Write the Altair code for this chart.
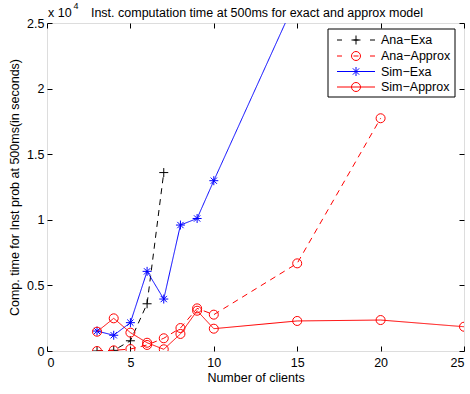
import altair as alt
import pandas as pd

# Number of clients and computation time (x 10^4 seconds) for each model
clients_ana_exa = [3, 4, 5, 6, 7]
time_ana_exa = [0.0, 0.005, 0.078, 0.36, 1.36]

clients_ana_approx = [3, 4, 5, 6, 7, 8, 9, 10, 15, 20]
time_ana_approx = [0.0, 0.005, 0.015, 0.046, 0.097, 0.175, 0.325, 0.277, 0.668, 1.774]

clients_sim_exa = [3, 4, 5, 6, 7, 8, 9, 10, 15]
time_sim_exa = [0.152, 0.12, 0.216, 0.607, 0.396, 0.96, 1.01, 1.298, 2.70]

clients_sim_approx = [3, 4, 5, 6, 7, 8, 9, 10, 15, 20, 25]
time_sim_approx = [0.147, 0.249, 0.14, 0.063, 0.013, 0.13, 0.307, 0.17, 0.229, 0.236, 0.185]

x_ticks = [0, 5, 10, 15, 20, 25]
y_ticks = [0, 0.5, 1, 1.5, 2, 2.5]

series_names = ["Ana\u2212Exa", "Ana\u2212Approx", "Sim\u2212Exa", "Sim\u2212Approx"]
title_text = "Inst. computation  time at 500ms for exact and approx model"

W, H = 417, 328
FONT = "Liberation Sans"
FS = 12.5

PLUS = "M-1,0L1,0M0,-1L0,1"
STAR = "M-1,0L1,0M0,-1L0,1M-0.7,-0.7L0.7,0.7M-0.7,0.7L0.7,-0.7"

styles = [
    dict(color="#000000", dash=[6, 5], ldash=[5, 11.5], shape=PLUS),
    dict(color="#ff0000", dash=[6, 5], ldash=[5, 11.5], shape="circle"),
    dict(color="#0000ff", dash=[1, 0], ldash=[1, 0], shape=STAR),
    dict(color="#ff0000", dash=[1, 0], ldash=[1, 0], shape="circle"),
]

series_data = [
    (clients_ana_exa, time_ana_exa),
    (clients_ana_approx, time_ana_approx),
    (clients_sim_exa, time_sim_exa),
    (clients_sim_approx, time_sim_approx),
]

x_scale = alt.Scale(domain=[0, 25], nice=False, zero=False)
y_scale = alt.Scale(domain=[0, 2.5], nice=False)

axis_common = dict(
    domain=False, grid=False, ticks=True, tickSize=5, tickColor="black",
    tickWidth=1, offset=-5, labelFont=FONT, labelFontSize=FS,
    labelColor="black", titleFont=FONT, titleFontSize=FS,
    titleFontWeight="normal", titleColor="black",
)

x_bottom = alt.Axis(orient="bottom", values=x_ticks, labelPadding=5,
                    title="Number of clients", titlePadding=3, **axis_common)
y_left = alt.Axis(orient="left", values=y_ticks, labelPadding=3, format=".1~f",
                  title="Comp. time for Inst prob at 500ms(in seconds)",
                  titlePadding=5, **axis_common)
x_top = alt.Axis(orient="top", values=x_ticks, labels=False, title=None, **axis_common)
y_right = alt.Axis(orient="right", values=y_ticks, labels=False, title=None, **axis_common)

layers = []

# Frame axes: bottom/left with labels, top/right ticks only
axis_df = pd.DataFrame({"clients": [0, 25], "time": [0, 2.5]})
layers.append(
    alt.Chart(axis_df).mark_point(opacity=0).encode(
        x=alt.X("clients:Q", scale=x_scale, axis=x_bottom),
        y=alt.Y("time:Q", scale=y_scale, axis=y_left),
    )
)
layers.append(
    alt.Chart(axis_df).mark_point(opacity=0).encode(
        x=alt.X("clients:Q", scale=x_scale, axis=x_top),
        y=alt.Y("time:Q", scale=y_scale, axis=y_right),
    )
)

# Series lines and markers
for (xs, ys), st in zip(series_data, styles):
    df = pd.DataFrame({"clients": xs, "time": ys})
    base = alt.Chart(df).encode(
        x=alt.X("clients:Q", scale=x_scale, axis=None),
        y=alt.Y("time:Q", scale=y_scale, axis=None),
    )
    layers.append(base.mark_line(color=st["color"], strokeDash=st["dash"],
                                 strokeWidth=1, clip=True))
    layers.append(base.mark_point(shape=st["shape"], filled=False, size=81,
                                  color=st["color"], strokeWidth=1, opacity=1,
                                  clip=True))

# Legend box
one = pd.DataFrame({"k": [0]})
layers.append(
    alt.Chart(one).mark_rect(fill="white", stroke="black", strokeWidth=1).encode(
        x=alt.value(281), x2=alt.value(408), y=alt.value(6), y2=alt.value(74)
    )
)
legend_y = [17, 33, 48.5, 64]
for name, st, ly in zip(series_names, styles, legend_y):
    ldf = pd.DataFrame({"label": [name]})
    lb = alt.Chart(ldf)
    layers.append(lb.mark_rule(color=st["color"], strokeDash=st["ldash"], strokeWidth=1).encode(
        x=alt.value(290), x2=alt.value(328), y=alt.value(ly)))
    layers.append(lb.mark_point(shape=st["shape"], filled=False, size=81,
                                color=st["color"], strokeWidth=1, opacity=1).encode(
        x=alt.value(309), y=alt.value(ly)))
    layers.append(lb.mark_text(align="left", baseline="middle", font=FONT,
                               fontSize=FS, color="black").encode(
        x=alt.value(334), y=alt.value(ly), text="label:N"))

# Title and exponent marker of the y axis
txt_df = pd.DataFrame({"title": [title_text], "base": ["x 10"], "exp": ["4"]})
layers.append(alt.Chart(txt_df).mark_text(align="center", baseline="alphabetic", font=FONT,
                                          fontSize=FS, color="black").encode(
    x=alt.value(210), y=alt.value(-6), text="title:N"))
layers.append(alt.Chart(txt_df).mark_text(align="left", baseline="alphabetic", font=FONT,
                                          fontSize=FS, color="black").encode(
    x=alt.value(1), y=alt.value(-6), text="base:N"))
layers.append(alt.Chart(txt_df).mark_text(align="left", baseline="alphabetic", font=FONT,
                                          fontSize=9, color="black").encode(
    x=alt.value(26.5), y=alt.value(-14), text="exp:N"))

chart = alt.layer(*layers).resolve_axis(x="independent", y="independent").properties(
    width=W, height=H,
    autosize=alt.AutoSizeParams(type="none"),
    padding={"left": 47, "top": 23, "right": 6, "bottom": 43},
).configure_view(stroke="black", strokeWidth=1).configure(background="white")

chart.save("out.html", embed_options={"renderer": "svg", "actions": False})
